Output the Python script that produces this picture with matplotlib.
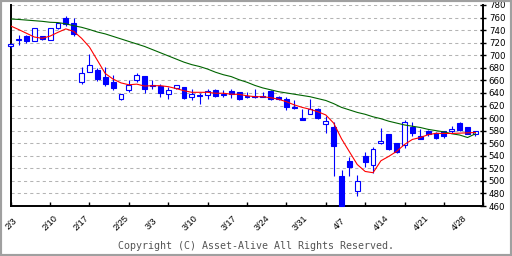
import numpy as np
import matplotlib
matplotlib.use("Agg")
import matplotlib.pyplot as plt
from matplotlib.patches import Rectangle

# Cours journaliers (un créneau par jour de bourse)
ouvertures = [714, 725, 731, 723, 730, 725, 744, 759, 751, 658,
              674, 676, 665, 658, 630, 645, 661, 667, 653, 651,
              638, 648, 649, 633, 637, 637, 645, 639, 643, 641,
              635, 635, 635, 643, 634, 630, 618, 600, 607, 614,
              590, 586, 508, 532, 484, 540, 525, 560, 574, 560,
              557, 586, 571, 580, 577, 579, 579, 592, 585, 575]
hauts = [719, 732, 733, 744, 731, 744, 752, 763, 759, 682,
         702, 679, 682, 668, 639, 660, 671, 667, 660, 655,
         650, 653, 650, 646, 640, 646, 646, 645, 646, 642,
         641, 646, 641, 644, 635, 633, 629, 615, 630, 616,
         603, 593, 517, 538, 509, 546, 554, 584, 575, 561,
         597, 594, 582, 581, 578, 580, 588, 593, 586, 579]
bas = [712, 716, 719, 722, 724, 724, 742, 747, 731, 655,
       673, 659, 651, 644, 629, 642, 658, 640, 647, 634,
       631, 646, 631, 628, 622, 631, 634, 634, 632, 629,
       632, 632, 633, 629, 629, 613, 614, 597, 606, 599,
       576, 507, 460, 508, 476, 522, 512, 559, 549, 545,
       552, 571, 566, 571, 567, 568, 576, 580, 574, 572]
clotures = [718, 725.5, 723, 743, 726, 743, 751, 750, 734, 671,
            685, 662, 655, 648, 638, 653, 668, 646, 651, 640,
            644, 652, 632, 639, 635, 643, 635, 637, 638, 630,
            633, 633, 634, 630, 630, 617, 616, 597, 614, 600,
            595, 556, 460.5, 522, 500, 530, 550, 564, 550, 546,
            594, 576, 567, 575, 568, 572, 582, 581, 575, 579]

# Moyennes mobiles
moyenne_courte = [746.6, 741, 735, 729, 727, 730.5, 736.5, 742, 738, 727,
                  713, 692, 671, 662, 656, 653, 654, 651, 651.5, 651.5,
                  650, 647, 643.5, 641, 641, 641, 639.5, 639.5, 638, 637.7,
                  635.5, 634, 634, 632.4, 630, 626, 621, 617, 614, 610,
                  605, 592, 567, 546.4, 526, 515, 513, 532, 539, 547,
                  558, 566, 569, 573.5, 575.7, 575.5, 575.5, 576, 576.5, 577]
moyenne_longue = [757.7, 757, 756, 755, 754, 752.5, 752, 750, 747, 744.5,
                  741, 737, 734, 730, 726, 722, 718, 714, 709, 704,
                  699, 694, 689, 685, 682, 678, 673, 669, 666, 661,
                  657, 652, 648, 645, 642, 640, 638, 636, 634, 631,
                  628, 623, 617, 613, 609, 606, 602, 599, 595, 592,
                  589, 587, 585, 582, 580, 578, 575, 573, 569, 575]

dates_ticks = ["2/3", "2/10", "2/17", "2/25", "3/3", "3/10", "3/17",
               "3/24", "3/31", "4/7", "4/14", "4/21", "4/28"]
# les étiquettes ne tombent pas pile sur les graduations
pos_etiquettes = [0.1, 5.0, 8.9, 14.0, 17.9, 22.8, 27.8,
                  31.9, 36.8, 41.8, 47.1, 52.1, 57.0]

bleu = "#0000ff"

fig = plt.figure(figsize=(5.12, 2.56), dpi=100)
ax = fig.add_axes([10.7 / 512, 50 / 256, 472.6 / 512, 201 / 256])

o = np.array(ouvertures, dtype=float)
h = np.array(hauts, dtype=float)
b = np.array(bas, dtype=float)
c = np.array(clotures, dtype=float)
x = np.arange(len(c))
hausse = c >= o

# Mèches puis corps des bougies
ax.vlines(x, b, h, color=bleu, linewidth=0.8, zorder=3, clip_on=False)
bas_corps = np.minimum(o, c)
taille_corps = np.abs(c - o)
ax.bar(x[hausse], taille_corps[hausse], bottom=bas_corps[hausse], width=0.62,
       facecolor="white", edgecolor=bleu, linewidth=0.8, zorder=4, clip_on=False)
ax.bar(x[~hausse], taille_corps[~hausse], bottom=bas_corps[~hausse], width=0.62,
       facecolor=bleu, edgecolor=bleu, linewidth=0.8, zorder=4, clip_on=False)

# Moyennes mobiles
ax.plot(x, moyenne_longue, color="#006400", linewidth=0.8, zorder=5)
ax.plot(x, moyenne_courte, color="#ff0000", linewidth=0.8, zorder=5)

ax.set_xlim(0, 60)
ax.set_ylim(460, 780)
ax.set_yticks(range(460, 781, 20))

# graduations hebdomadaires sans texte, étiquettes sur les graduations mineures
ax.xaxis.remove_overlapping_locs = False
ax.set_xticks(range(0, 61, 5))
ax.set_xticklabels([])
ax.set_xticks(pos_etiquettes, minor=True)
ax.set_xticklabels(dates_ticks, minor=True, rotation=45, ha="center", va="center",
                   rotation_mode="anchor", family="Liberation Sans")
for t in ax.get_yticklabels():
    t.set_family("Liberation Sans")

ax.yaxis.tick_right()
ax.yaxis.grid(True, linestyle=(0, (3, 3)), color="#b4b4b4", linewidth=0.75)
ax.set_axisbelow(True)
ax.tick_params(axis="y", direction="inout", length=5, width=1, labelsize=6.2, pad=1.5)
ax.tick_params(axis="x", which="major", direction="in", length=3, width=1)
ax.tick_params(axis="x", which="minor", length=0, labelsize=6.6, pad=12.5)

ax.spines["top"].set_visible(False)
for cote in ["left", "right", "bottom"]:
    ax.spines[cote].set_linewidth(1.4)
    ax.spines[cote].set_color("black")

fig.text(0.5, 1 - 246 / 256, "Copyright (C) Asset-Alive All Rights Reserved.",
         ha="center", va="center", family="DejaVu Sans Mono", fontsize=7.2,
         color="#555555")

# Cadre gris autour de l'image
fig.add_artist(Rectangle((0, 0), 1, 1, transform=fig.transFigure, fill=False,
                         edgecolor="#a0a0a0", linewidth=3))

fig.savefig("out.png", dpi=100)
